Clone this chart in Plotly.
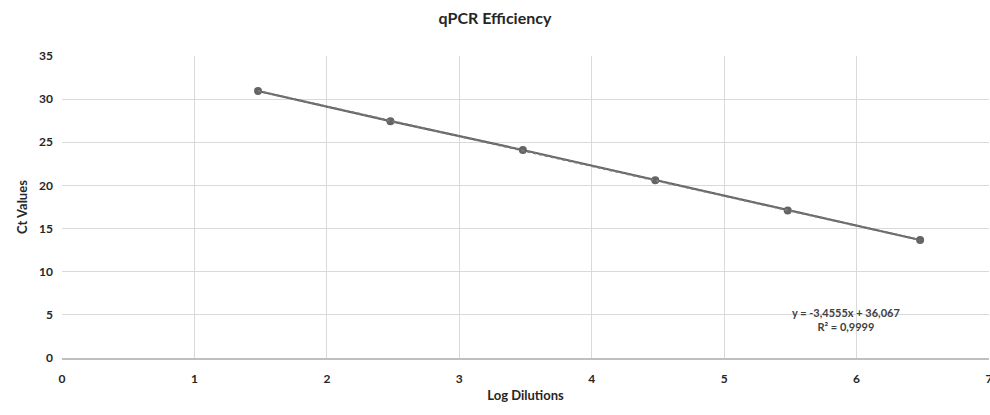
import numpy as np
import plotly.graph_objects as go

log_dilutions = [1.48, 2.48, 3.48, 4.48, 5.48, 6.48]
ct_values = [30.95, 27.45, 24.10, 20.60, 17.10, 13.68]
x_ticks = [0, 1, 2, 3, 4, 5, 6, 7]
y_ticks = [0, 5, 10, 15, 20, 25, 30, 35]
equation_text = "<b>y = -3,4555x + 36,067<br>R² = 0,9999</b>"

slope, intercept = np.polyfit(log_dilutions, ct_values, 1)
trend_x = [min(log_dilutions), max(log_dilutions)]
trend_y = [slope * v + intercept for v in trend_x]

fig = go.Figure()
fig.add_trace(go.Scatter(
    x=log_dilutions, y=ct_values, mode="lines+markers",
    line=dict(color="#646464", width=2.2),
    marker=dict(color="#646464", size=8),
    showlegend=False, hoverinfo="skip"))
fig.add_trace(go.Scatter(
    x=trend_x, y=trend_y, mode="lines",
    line=dict(color="#7a7a7a", width=2, dash="dot"),
    showlegend=False, hoverinfo="skip"))

fig.add_annotation(x=5.92, y=4.5, xref="x", yref="y", text=equation_text,
                   showarrow=False, align="center",
                   font=dict(family="Lato", size=11, color="#404040"))

axis_font = dict(family="Lato", size=12, color="#262626")
fig.update_layout(
    width=990, height=415,
    margin=dict(l=62, r=1, t=56, b=57, autoexpand=False),
    paper_bgcolor="white", plot_bgcolor="white",
    title=dict(text="<b>qPCR Efficiency</b>", x=0.5, xanchor="center", y=0.955, yanchor="middle",
               font=dict(family="Lato", size=16, color="#262626")),
    xaxis=dict(range=[0, 7], tickvals=x_ticks, ticktext=[f"<b>{v}</b>" for v in x_ticks],
               showgrid=True, gridcolor="#d9d9d9", gridwidth=1,
               showline=True, linecolor="#bfbfbf", linewidth=1.5,
               zeroline=False, ticks="", tickfont=axis_font, ticklabelstandoff=9,
               ticklabeloverflow="allow", automargin=False,
               title=dict(text="<b>Log Dilutions</b>", font=dict(family="Lato", size=13, color="#262626"), standoff=6)),
    yaxis=dict(range=[0, 35], tickvals=y_ticks, ticktext=[f"<b>{v}</b>" for v in y_ticks],
               showgrid=True, gridcolor="#d9d9d9", gridwidth=1,
               showline=False, zeroline=False, ticks="", tickfont=axis_font, ticklabelstandoff=8,
               automargin=False,
               title=dict(text="<b>Ct Values</b>", font=dict(family="Lato", size=13, color="#262626"), standoff=8)),
)

fig.write_html("out.html")
